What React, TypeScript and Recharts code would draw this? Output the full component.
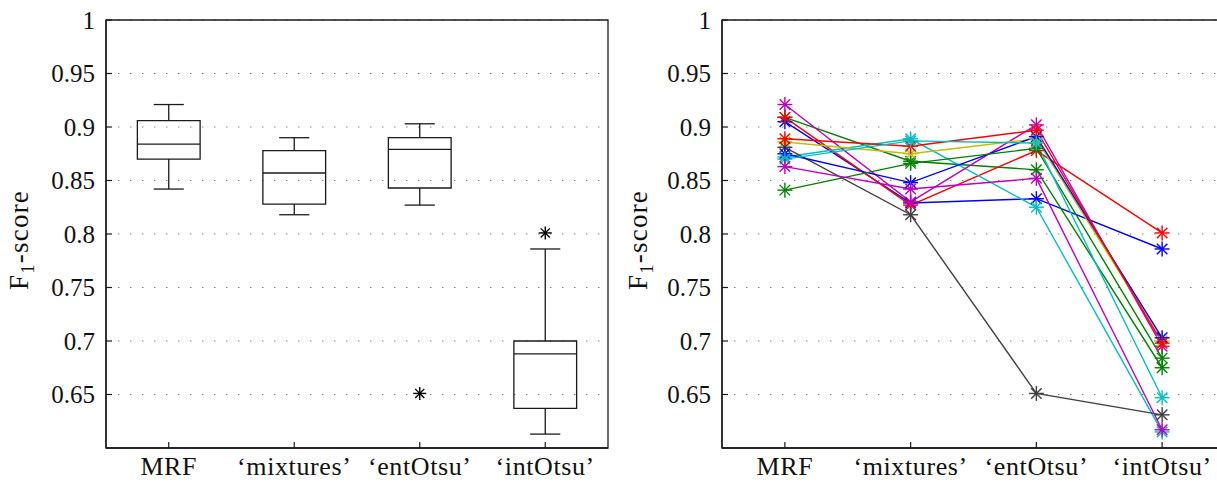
import React from "react";
import {
  ComposedChart,
  LineChart,
  Line,
  Scatter,
  XAxis,
  YAxis,
  CartesianGrid,
  ReferenceArea,
  ReferenceLine,
} from "recharts";

const categories = ["MRF", "\u2018mixtures\u2019", "\u2018entOtsu\u2019", "\u2018intOtsu\u2019"];
const catPos = [1, 2, 3, 4];
const yTicks = [0.65, 0.7, 0.75, 0.8, 0.85, 0.9, 0.95, 1];

// left panel: box plot summary
const whiskerLow = [0.842, 0.818, 0.827, 0.613];
const boxQ1 = [0.87, 0.828, 0.843, 0.637];
const boxMedian = [0.884, 0.857, 0.879, 0.688];
const boxQ3 = [0.906, 0.878, 0.89, 0.7];
const whiskerHigh = [0.921, 0.89, 0.903, 0.786];
const outlierCat = [3, 4];
const outlierVal = [0.651, 0.801];

// right panel: one line per image (MATLAB colour order)
const blue1 = [0.905, 0.829, 0.833, 0.786];
const green1 = [0.909, 0.868, 0.86, 0.675];
const red1 = [0.909, 0.827, 0.878, 0.801];
const cyan1 = [0.872, 0.889, 0.825, 0.615];
const magenta1 = [0.921, 0.83, 0.902, 0.695];
const yellow1 = [0.886, 0.875, 0.889, 0.7];
const gray1 = [0.881, 0.818, 0.651, 0.631];
const blue2 = [0.875, 0.848, 0.891, 0.703];
const green2 = [0.841, 0.866, 0.88, 0.684];
const red2 = [0.889, 0.882, 0.897, 0.698];
const cyan2 = [0.87, 0.887, 0.885, 0.647];
const magenta2 = [0.863, 0.842, 0.852, 0.617];

const series = [
  { vals: blue1, color: "#0000ff" },
  { vals: green1, color: "#008000" },
  { vals: red1, color: "#ff0000" },
  { vals: cyan1, color: "#00bfbf" },
  { vals: magenta1, color: "#bf00bf" },
  { vals: yellow1, color: "#bfbf00" },
  { vals: gray1, color: "#404040" },
  { vals: blue2, color: "#0000ff" },
  { vals: green2, color: "#008000" },
  { vals: red2, color: "#ff0000" },
  { vals: cyan2, color: "#00bfbf" },
  { vals: magenta2, color: "#bf00bf" },
];

const lineRows = catPos.map((x, i) => {
  const row: Record<string, number> = { x };
  series.forEach((s, k) => (row["s" + k] = s.vals[i]));
  return row;
});
const outlierRows = outlierCat.map((x, i) => ({ x, y: outlierVal[i] }));

const FONT = '"Liberation Serif", "DejaVu Serif", serif';
const textStyle = { fontFamily: FONT };
const AXIS = "#1a1a1a";
const Y_GAP = 11;
const X_GAP = 9;

function Star({ cx, cy, color, r }: { cx: number; cy: number; color: string; r: number }) {
  const d = r * 0.7;
  return (
    <g stroke={color} strokeWidth={1.4}>
      <line x1={cx - r} x2={cx + r} y1={cy} y2={cy} />
      <line x1={cx} x2={cx} y1={cy - r} y2={cy + r} />
      <line x1={cx - d} x2={cx + d} y1={cy - d} y2={cy + d} />
      <line x1={cx - d} x2={cx + d} y1={cy + d} y2={cy - d} />
    </g>
  );
}

function YTick(props: any) {
  const { x, y, payload } = props;
  const ax = x + Y_GAP;
  return (
    <g>
      <line x1={ax} x2={ax + 6} y1={y} y2={y} stroke={AXIS} strokeWidth={1.2} />
      <text x={x} y={y} dy="0.35em" textAnchor="end" style={textStyle} fontSize={25} fill="#111">
        {String(payload.value)}
      </text>
    </g>
  );
}

function XTick(props: any) {
  const { x, y, payload } = props;
  const ay = y - X_GAP;
  return (
    <g>
      <line x1={x} x2={x} y1={ay} y2={ay - 6} stroke={AXIS} strokeWidth={1.2} />
      <text x={x} y={y} dy="0.71em" textAnchor="middle" style={{ ...textStyle, letterSpacing: 0.6 }} fontSize={26} fill="#111">
        {categories[payload.value - 1]}
      </text>
    </g>
  );
}

function YTitle({ x }: { x: number }) {
  const cy = 240;
  return (
    <text
      x={x}
      y={cy}
      transform={`rotate(-90, ${x}, ${cy})`}
      textAnchor="middle"
      style={{ ...textStyle, letterSpacing: 1.2 }}
      fontSize={27}
      fill="#111"
    >
      F
      <tspan fontSize={19} dy={6}>1</tspan>
      <tspan dy={-6}>-score</tspan>
    </text>
  );
}

const axesCommon = (titleX: number) => [
  <XAxis
    key="x"
    dataKey="x"
    type="number"
    domain={[0.5, 4.5]}
    ticks={catPos}
    allowDataOverflow
    tick={<XTick />}
    tickSize={0}
    tickMargin={X_GAP}
    height={37}
    stroke={AXIS}
    strokeWidth={1.3}
  />,
  <YAxis
    key="y"
    dataKey="y"
    type="number"
    domain={[0.6, 1]}
    ticks={yTicks}
    allowDataOverflow
    tick={<YTick />}
    tickSize={0}
    tickMargin={Y_GAP}
    width={106}
    stroke={AXIS}
    strokeWidth={1.3}
    label={{ content: () => <YTitle x={titleX} /> }}
  />,
  <CartesianGrid key="g" vertical={false} stroke="#777" strokeDasharray="1.4 10.6" />,
];

function BoxPanel() {
  return (
    <ComposedChart width={620} height={485} data={outlierRows} margin={{ top: 20, right: 12, bottom: 0, left: 0 }}>
      {axesCommon(28)}
      <ReferenceArea x1={0.5} x2={4.5} y1={0.6} y2={1} fill="none" stroke={AXIS} strokeWidth={1.3} fillOpacity={0} />
      {catPos.map((c, i) => (
        <ReferenceArea
          key={"box" + i}
          x1={c - 0.25}
          x2={c + 0.25}
          y1={boxQ1[i]}
          y2={boxQ3[i]}
          fill="none"
          fillOpacity={0}
          stroke={AXIS}
          strokeWidth={1.3}
        />
      ))}
      {catPos.map((c, i) => (
        <ReferenceLine key={"med" + i} segment={[{ x: c - 0.25, y: boxMedian[i] }, { x: c + 0.25, y: boxMedian[i] }]} stroke={AXIS} strokeWidth={1.3} />
      ))}
      {catPos.map((c, i) => (
        <ReferenceLine key={"wu" + i} segment={[{ x: c, y: boxQ3[i] }, { x: c, y: whiskerHigh[i] }]} stroke={AXIS} strokeWidth={1.3} />
      ))}
      {catPos.map((c, i) => (
        <ReferenceLine key={"wl" + i} segment={[{ x: c, y: boxQ1[i] }, { x: c, y: whiskerLow[i] }]} stroke={AXIS} strokeWidth={1.3} />
      ))}
      {catPos.map((c, i) => (
        <ReferenceLine key={"cu" + i} segment={[{ x: c - 0.12, y: whiskerHigh[i] }, { x: c + 0.12, y: whiskerHigh[i] }]} stroke={AXIS} strokeWidth={1.3} />
      ))}
      {catPos.map((c, i) => (
        <ReferenceLine key={"cl" + i} segment={[{ x: c - 0.12, y: whiskerLow[i] }, { x: c + 0.12, y: whiskerLow[i] }]} stroke={AXIS} strokeWidth={1.3} />
      ))}
      <Scatter
        dataKey="y"
        isAnimationActive={false}
        shape={(p: any) => <Star cx={p.cx} cy={p.cy} color="#000" r={6.5} />}
      />
    </ComposedChart>
  );
}

function LinePanel() {
  return (
    <LineChart width={621} height={485} data={lineRows} margin={{ top: 20, right: 12, bottom: 0, left: 0 }}>
      {axesCommon(31)}
      <ReferenceArea x1={0.5} x2={4.5} y1={0.6} y2={1} fill="none" stroke={AXIS} strokeWidth={1.3} fillOpacity={0} />
      {series.map((s, k) => (
        <Line
          key={"s" + k}
          dataKey={"s" + k}
          stroke={s.color}
          strokeWidth={1.4}
          isAnimationActive={false}
          dot={(p: any) => <Star key={`d${k}-${p.index}`} cx={p.cx} cy={p.cy} color={s.color} r={7.5} />}
        />
      ))}
    </LineChart>
  );
}

export default function App() {
  return (
    <div
      style={{
        position: "fixed",
        left: 0,
        top: 0,
        width: 1217,
        height: 485,
        overflow: "hidden",
        background: "#fff",
        fontFamily: FONT,
      }}
    >
      <div style={{ position: "absolute", left: 0, top: 0 }}>
        <BoxPanel />
      </div>
      <div style={{ position: "absolute", left: 616, top: 0 }}>
        <LinePanel />
      </div>
    </div>
  );
}
